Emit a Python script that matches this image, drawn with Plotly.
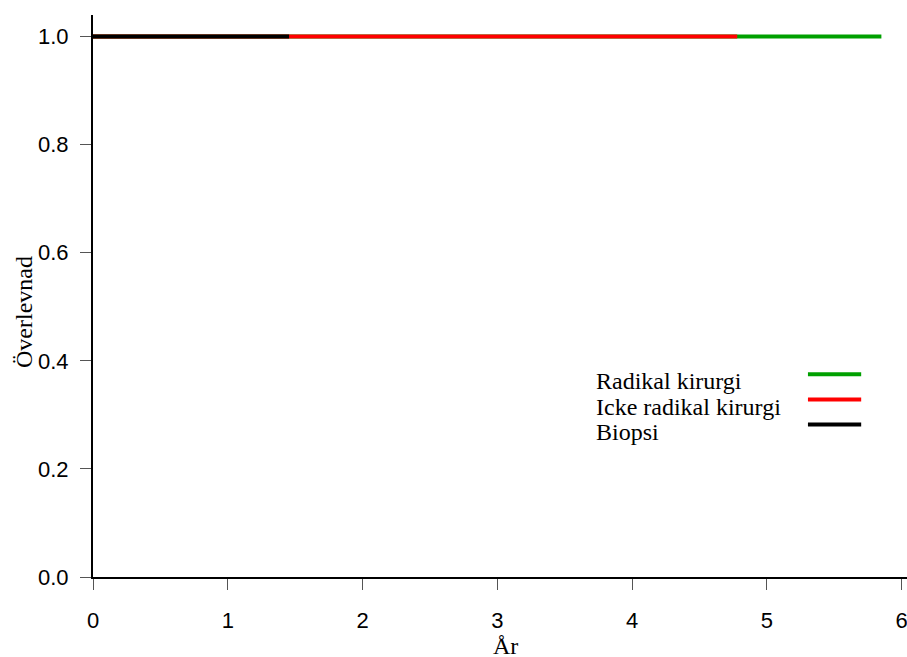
import plotly.graph_objects as go

# Data: Kaplan-Meier style survival (all stay at 1.0 until end of follow-up)
series_names = ["Radikal kirurgi", "Icke radikal kirurgi", "Biopsi"]
series_colors = ["#00a000", "#ff0000", "#000000"]
series_x = [[0, 5.85], [0, 4.78], [0, 1.455]]
series_y = [[1.0, 1.0], [1.0, 1.0], [1.0, 1.0]]

x_ticks = [0, 1, 2, 3, 4, 5, 6]
y_ticks = [0.0, 0.2, 0.4, 0.6, 0.8, 1.0]
y_tick_labels = ["0.0", "0.2", "0.4", "0.6", "0.8", "1.0"]

x_title = "År"
y_title = "Överlevnad"

SERIF = "Liberation Serif, Times New Roman, serif"
SANS = "Liberation Sans, Arial, sans-serif"

fig = go.Figure()
for name, color, xs, ys in zip(series_names, series_colors, series_x, series_y):
    fig.add_trace(go.Scatter(x=xs, y=ys, mode="lines", name=name,
                             line=dict(color=color, width=4, shape="hv"),
                             showlegend=False, hoverinfo="skip"))

# custom legend: text on the left, line sample on the right
leg_text_x = 3.715
leg_line_x0, leg_line_x1 = 5.305, 5.70
leg_line_y = [0.375, 0.3285, 0.282]
leg_text_y = [0.362, 0.314, 0.268]
annotations = []
shapes = []
for name, color, ly, ty in zip(series_names, series_colors, leg_line_y, leg_text_y):
    shapes.append(dict(type="line", xref="x", yref="y", x0=leg_line_x0, x1=leg_line_x1,
                       y0=ly, y1=ly, line=dict(color=color, width=4)))
    annotations.append(dict(text=name, x=leg_text_x, y=ty, xref="x", yref="y",
                            xanchor="left", yanchor="middle", showarrow=False,
                            font=dict(family=SERIF, size=24, color="black")))

annotations.append(dict(text=x_title, x=0.507, y=0, xref="paper", yref="paper",
                        xanchor="center", yanchor="middle", yshift=-69, showarrow=False,
                        font=dict(family=SERIF, size=24, color="black")))
annotations.append(dict(text=y_title, x=0, y=0.4715, xref="paper", yref="paper",
                        xanchor="center", yanchor="middle", xshift=-69, textangle=-90,
                        showarrow=False, font=dict(family=SERIF, size=24, color="black")))

fig.update_layout(
    width=907, height=657,
    margin=dict(l=93, r=0, t=15, b=80),
    plot_bgcolor="white", paper_bgcolor="white",
    annotations=annotations, shapes=shapes,
    xaxis=dict(range=[0, 6.04], tickvals=x_ticks, ticks="outside", ticklen=11,
               tickcolor="#555555", tickwidth=1, showline=True, linecolor="black",
               linewidth=2, showgrid=False, zeroline=False, ticklabelstandoff=12,
               ticklabeloverflow="allow", automargin=False,
               tickfont=dict(family=SANS, size=22, color="black")),
    yaxis=dict(range=[0, 1.04], tickvals=y_ticks, ticktext=y_tick_labels,
               ticks="outside", ticklen=11, tickcolor="#555555", tickwidth=1,
               showline=True, linecolor="black", linewidth=2, showgrid=False,
               zeroline=False, ticklabelstandoff=7, automargin=False,
               tickfont=dict(family=SANS, size=22, color="black")),
)

fig.write_html("out.html")
